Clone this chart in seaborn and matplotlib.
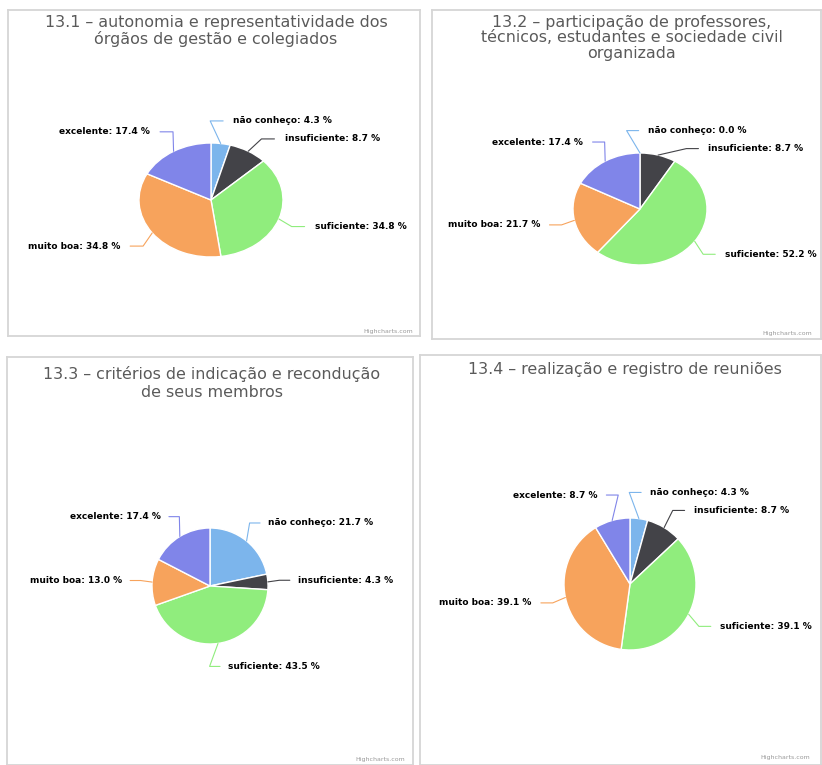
import numpy as np
import seaborn as sns
import matplotlib.pyplot as plt

categories = ['não conheço', 'insuficiente', 'suficiente', 'muito boa', 'excelente']
titles = [
    '13.1 – autonomia e representatividade dos\nórgãos de gestão e colegiados',
    '13.2 – participação de professores,\ntécnicos, estudantes e sociedade civil\norganizada',
    '13.3 – critérios de indicação e recondução\nde seus membros',
    '13.4 – realização e registro de reuniões',
]
values_131 = [4.3, 8.7, 34.8, 34.8, 17.4]
values_132 = [0.0, 8.7, 52.2, 21.7, 17.4]
values_133 = [21.7, 4.3, 43.5, 13.0, 17.4]
values_134 = [4.3, 8.7, 39.1, 39.1, 8.7]
series = [values_131, values_132, values_133, values_134]

palette = sns.color_palette(['#7cb5ec', '#434348', '#90ed7d', '#f7a35c', '#8085e9'])

W, H = 822, 765
sns.set_style('white')
plt.rcParams['font.family'] = ['DejaVu Sans']

fig = plt.figure(figsize=(W / 100, H / 100), dpi=100)

# layout in pixels: panel box (left, top, right, bottom), pie centre, pie radii,
# title (centre x, top y), title line spacing, credit (right x, y)
layout = [
    dict(box=(8, 10, 420, 336), centre=(211, 200), radii=(72, 57),
         title=(216, 15), ls=1.04, credit=(413, 332)),
    dict(box=(432, 10, 821, 339), centre=(640, 209), radii=(67, 56),
         title=(632, 15), ls=1.04, credit=(812, 333)),
    dict(box=(7, 357, 413, 765), centre=(210, 586), radii=(58, 58),
         title=(212, 366), ls=1.26, credit=(405, 760)),
    dict(box=(420, 355, 821, 765), centre=(630, 584), radii=(66, 66),
         title=(625, 362), ls=1.04, credit=(810, 758)),
]


def fx(x):
    return x / W


def fy(y):
    return 1 - y / H


def label_positions(values, ry):
    fr = np.array(values) / np.sum(values)
    mids = 2 * np.pi * (np.cumsum(fr) - fr / 2)   # clockwise from the top
    dx, dy = np.sin(mids), np.cos(mids)
    side = np.where(dx >= -1e-9, 1, -1)
    R = 1.4
    ly = R * dy
    gap = 18 / ry
    for s in (1, -1):
        idx = sorted([i for i in range(len(values)) if side[i] == s], key=lambda i: -ly[i])
        for a, b in zip(idx, idx[1:]):
            if ly[a] - ly[b] < gap:
                ly[b] = ly[a] - gap
    lx = side * (np.sqrt(np.clip(R ** 2 - ly ** 2, 0, None)) + 0.12)
    return dx, dy, side, lx, ly


for vals, title, lay in zip(series, titles, layout):
    L, T, Rr, B = lay['box']
    cx, cy = lay['centre']
    rx, ry = lay['radii']
    ax = fig.add_axes([fx(L), fy(B), (Rr - L) / W, (B - T) / H])
    ax.pie(vals, colors=palette, startangle=90, counterclock=False,
           wedgeprops=dict(edgecolor='white', linewidth=1))
    ax.set_aspect('auto')
    ax.set_xlim((L - cx) / rx, (Rr - cx) / rx)
    ax.set_ylim((cy - B) / ry, (cy - T) / ry)
    ax.set_frame_on(True)
    for sp in ax.spines.values():
        sp.set_color('#d6d6d6')
        sp.set_linewidth(1.3)

    dx, dy, side, lx, ly = label_positions(vals, ry)
    for i, (cat, v) in enumerate(zip(categories, vals)):
        # connector: from the slice edge, bending into a short horizontal tail
        px = [dx[i], lx[i] - side[i] * 0.32, lx[i] - side[i] * 0.14]
        py = [dy[i], ly[i], ly[i]]
        ax.plot(px, py, color=palette[i], lw=0.8, solid_capstyle='round',
                solid_joinstyle='round')
        ax.text(lx[i], ly[i], f'{cat}: {v:.1f} %', fontsize=6.5, fontweight='bold',
                color='black', ha='left' if side[i] > 0 else 'right', va='center')

    tx, ty = lay['title']
    fig.text(fx(tx), fy(ty), title, ha='center', va='top', fontsize=11.4,
             color='#5a5a5a', linespacing=lay['ls'])
    crx, cry = lay['credit']
    fig.text(fx(crx), fy(cry), 'Highcharts.com', ha='right', va='center',
             fontsize=4.5, color='#999999')

fig.savefig('out.png', dpi=100, facecolor='white')
